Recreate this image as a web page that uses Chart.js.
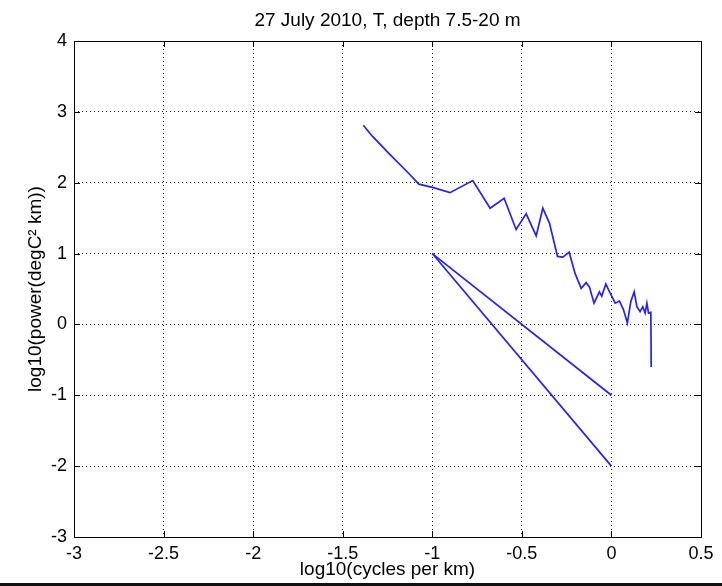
<!DOCTYPE html>
<html>
<head>
<meta charset="utf-8">
<script src="https://cdn.jsdelivr.net/npm/chart.js@4.4.0/dist/chart.umd.min.js"></script>
<style>
body { margin: 0; background: #fff; }
#wrap { width: 722px; height: 586px; position: relative; }
canvas { display: block; }
#bar { position: absolute; left: 0; top: 583px; width: 722px; height: 3px; background: #111; }
</style>
</head>
<body>
<div id="wrap"><canvas id="myChart" width="722" height="583"></canvas><div id="bar"></div></div>
<script>
// spectrum
var spectrumX = [-1.385, -1.336, -1.233, -1.131, -1.075, -0.994, -0.901, -0.774, -0.677, -0.599,
    -0.532, -0.476, -0.420, -0.383, -0.346, -0.301, -0.271, -0.236, -0.203, -0.169,
    -0.141, -0.123, -0.097, -0.067, -0.054, -0.031, -0.007, 0.021, 0.045, 0.067,
    0.089, 0.108, 0.127, 0.142, 0.160, 0.175, 0.188, 0.198, 0.207, 0.220, 0.222];
var spectrumY = [2.81, 2.66, 2.39, 2.13, 1.98, 1.93, 1.86, 2.03, 1.64, 1.78,
    1.34, 1.56, 1.25, 1.64, 1.43, 0.96, 0.95, 1.02, 0.72, 0.51,
    0.59, 0.53, 0.30, 0.46, 0.40, 0.57, 0.44, 0.30, 0.33, 0.21,
    0.02, 0.32, 0.46, 0.25, 0.18, 0.25, 0.16, 0.30, 0.16, 0.17, -0.60];

// reference slopes
var slope2X = [-1, 0];
var slope2Y = [1, -1];
var slope3X = [-1, 0];
var slope3Y = [1, -2];

var xTicks = [-3, -2.5, -2, -1.5, -1, -0.5, 0, 0.5];
var yTicks = [-3, -2, -1, 0, 1, 2, 3, 4];

var FONT = "'Liberation Sans', Arial, sans-serif";
var BLUE = 'rgb(35,35,238)';

function toPoints(xs, ys) {
    return xs.map(function(x, i) { return {x: x, y: ys[i]}; });
}

// box round the plot with inward ticks, matlab style
var boxPlugin = {
    id: 'box',
    afterDraw: function(chart) {
        var ctx = chart.ctx, a = chart.chartArea;
        var sx = chart.scales.x, sy = chart.scales.y;
        ctx.save();
        ctx.strokeStyle = '#000';
        ctx.lineWidth = 1;
        ctx.strokeRect(Math.round(a.left) + 0.5, Math.round(a.top) + 0.5,
            Math.round(a.right - a.left), Math.round(a.bottom - a.top));
        ctx.beginPath();
        xTicks.forEach(function(v) {
            var p = Math.round(sx.getPixelForValue(v)) + 0.5;
            ctx.moveTo(p, a.bottom); ctx.lineTo(p, a.bottom - 6);
            ctx.moveTo(p, a.top); ctx.lineTo(p, a.top + 6);
        });
        yTicks.forEach(function(v) {
            var p = Math.round(sy.getPixelForValue(v)) + 0.5;
            ctx.moveTo(a.left, p); ctx.lineTo(a.left + 6, p);
            ctx.moveTo(a.right, p); ctx.lineTo(a.right - 6, p);
        });
        ctx.stroke();
        ctx.restore();
    }
};

function lineSet(xs, ys) {
    return {
        data: toPoints(xs, ys),
        showLine: true,
        borderColor: BLUE,
        borderWidth: 1.7,
        pointRadius: 0,
        fill: false,
        tension: 0
    };
}

var ctx = document.getElementById('myChart').getContext('2d');
var chart = new Chart(ctx, {
    type: 'scatter',
    data: {
        datasets: [
            lineSet(spectrumX, spectrumY),
            lineSet(slope2X, slope2Y),
            lineSet(slope3X, slope3Y)
        ]
    },
    options: {
        responsive: false,
        animation: false,
        layout: { padding: { left: 0, right: 21, top: 0, bottom: 0 } },
        plugins: {
            legend: { display: false },
            tooltip: { enabled: false },
            title: {
                display: true,
                fullSize: false,
                text: '27 July 2010, T, depth 7.5-20 m',
                color: '#000',
                font: { family: FONT, size: 19, weight: 'normal' },
                padding: { top: 9, bottom: 9.2 }
            }
        },
        scales: {
            x: {
                type: 'linear',
                min: -3, max: 0.5,
                afterBuildTicks: function(s) { s.ticks = xTicks.map(function(v) { return {value: v}; }); },
                afterFit: function(s) { s.height = 46; },
                ticks: {
                    color: '#000',
                    padding: 6,
                    maxRotation: 0,
                    font: { family: FONT, size: 18 },
                    callback: function(v) { return String(v); }
                },
                grid: { color: '#222', lineWidth: 1, drawTicks: false },
                border: { display: false, dash: [1, 3] },
                title: {
                    display: true,
                    text: 'log10(cycles per km)',
                    color: '#000',
                    font: { family: FONT, size: 19 },
                    padding: { top: 0, bottom: 2 }
                }
            },
            y: {
                type: 'linear',
                min: -3, max: 4,
                afterBuildTicks: function(s) { s.ticks = yTicks.map(function(v) { return {value: v}; }); },
                afterFit: function(s) { s.width = 74; },
                ticks: {
                    color: '#000',
                    padding: 7,
                    font: { family: FONT, size: 18 },
                    callback: function(v) { return String(v); }
                },
                grid: { color: '#222', lineWidth: 1, drawTicks: false },
                border: { display: false, dash: [1, 3] },
                title: {
                    display: true,
                    text: 'log10(power(degC\u00b2 km))',
                    color: '#000',
                    font: { family: FONT, size: 19 },
                    padding: { top: 24, bottom: 0 }
                }
            }
        }
    },
    plugins: [boxPlugin]
});
</script>
</body>
</html>
